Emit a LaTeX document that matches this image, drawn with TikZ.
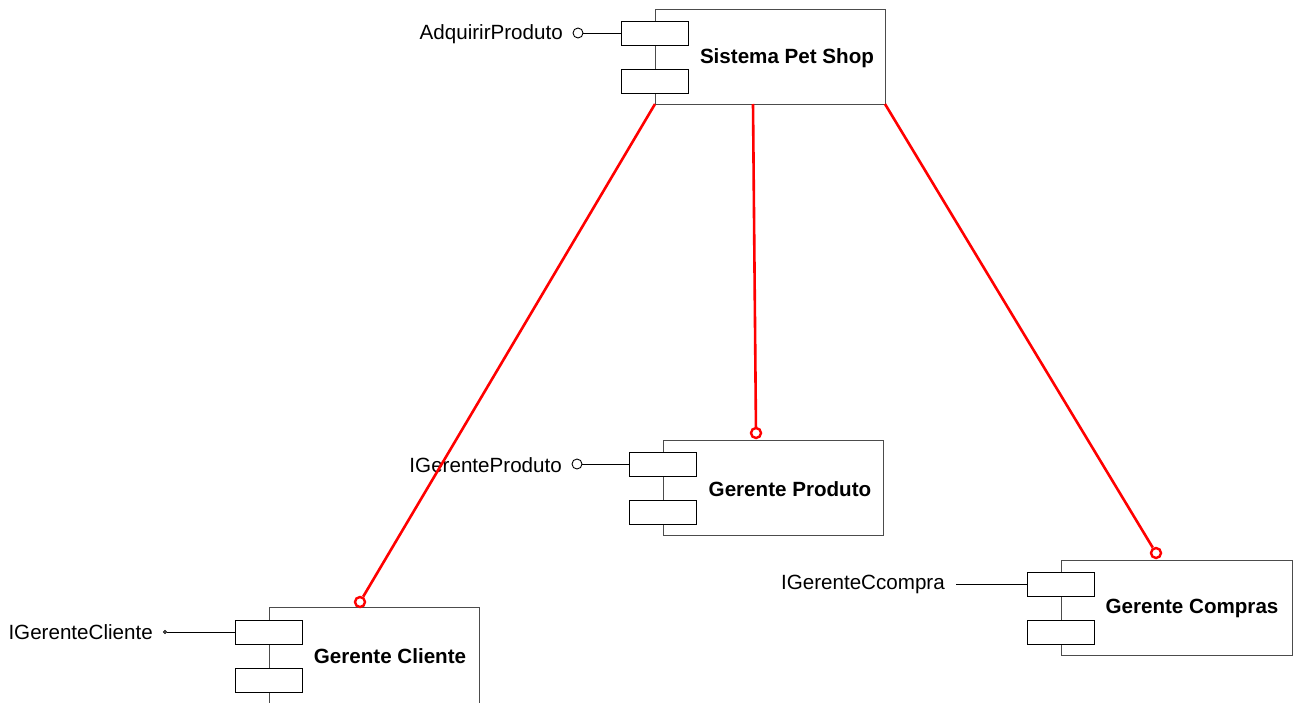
\documentclass[tikz,border=0pt]{standalone}
\usepackage{fontspec}
\setmainfont{Liberation Sans}
\begin{document}
\begin{tikzpicture}[x=1pt,y=-1pt,
  compbox/.style={draw=black!70, line width=1pt, fill=white, inner sep=0pt, outer sep=0pt, anchor=north west},
  port/.style={draw=black, line width=0.9pt, fill=white, inner sep=0pt, outer sep=0pt, anchor=north west, minimum width=67pt, minimum height=24pt},
  ball/.style={draw=black, line width=0.9pt, fill=white, circle, inner sep=0pt, minimum size=10pt},
  dot/.style={draw=black, line width=0.8pt, fill=white, circle, inner sep=0pt, minimum size=3pt},
  rball/.style={draw=red, line width=2.4pt, fill=white, circle, inner sep=0pt, minimum size=10pt},
  req/.style={draw=red, line width=2.6pt},
  iline/.style={draw=black, line width=0.9pt},
  lbl/.style={font=\fontsize{20.6}{24}\selectfont, inner sep=0pt, anchor=east, yshift=-1.5pt},
  cname/.style={font=\fontsize{20.6}{24}\selectfont\bfseries, inner sep=0pt, yshift=-1.5pt}]
\clip (0,0) rectangle (1298,702);
\fill[white] (0,0) rectangle (1298,702);

% Sistema Pet Shop
\node[compbox, minimum width=230pt, minimum height=95pt] (sps) at (655,9) {};
\node[port] (sps-p1) at (621,21) {};
\node[port] (sps-p2) at (621,69) {};
\node[cname] (sps-t) at (787,57) {Sistema Pet Shop};
\node[ball] (sps-i) at (578,33) {};
\node[lbl] (sps-l) at (563,33) {AdquirirProduto};
\draw[iline] (sps-i) -- (sps-i -| sps-p1.west);

% Gerente Produto
\node[compbox, minimum width=220pt, minimum height=95pt] (gp) at (663,440) {};
\node[port] (gp-p1) at (629,452) {};
\node[port] (gp-p2) at (629,500) {};
\node[cname] (gp-t) at (790,488) {Gerente Produto};
\node[ball] (gp-i) at (577,464) {};
\node[lbl] (gp-l) at (562,464) {IGerenteProduto};
\draw[iline] (gp-i) -- (gp-i -| gp-p1.west);

% Gerente Compras
\node[compbox, minimum width=231pt, minimum height=95pt] (gco) at (1061,560) {};
\node[port] (gco-p1) at (1027,572) {};
\node[port] (gco-p2) at (1027,620) {};
\node[cname] (gco-t) at (1192,607) {Gerente Compras};
\coordinate (gco-i) at (956,584);
\node[lbl] (gco-l) at (945,583) {IGerenteCcompra};
\draw[iline] (gco-i) -- (gco-i -| gco-p1.west);

% Gerente Cliente
\node[compbox, minimum width=210pt, minimum height=120pt] (gc) at (269,607) {};
\node[port] (gc-p1) at (235,620) {};
\node[port] (gc-p2) at (235,668) {};
\node[cname] (gc-t) at (390,655) {Gerente Cliente};
\node[dot] (gc-i) at (165,632) {};
\node[lbl] (gc-l) at (153,631) {IGerenteCliente};
\draw[iline] (gc-i) -- (gc-i -| gc-p1.west);

% required interfaces
\node[rball] (gc-r) at (360,602) {};
\node[rball] (gp-r) at (756,433) {};
\node[rball] (gco-r) at (1156,553) {};
\draw[req] (sps.south west) -- (gc-r);
\draw[req] ([xshift=98pt]sps.south west) -- (gp-r);
\draw[req] (sps.south east) -- (gco-r);
\end{tikzpicture}
\end{document}
